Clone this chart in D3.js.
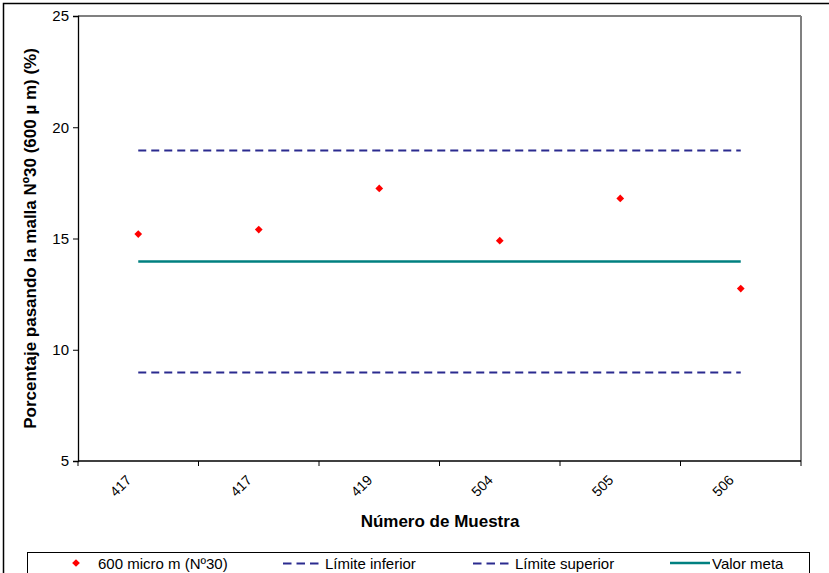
<!DOCTYPE html>
<html><head><meta charset="utf-8">
<script src="https://cdn.jsdelivr.net/npm/d3@7"></script>
<style>body{margin:0;background:#fff}svg{display:block;font-family:"Liberation Sans",Arial,sans-serif}</style>
</head><body><svg id="c" width="829" height="573"></svg>
<script>
const categories = ["417","417","419","504","505","506"];
const values = [15.2, 15.4, 17.25, 14.9, 16.8, 12.75];
const lowerLimit = [9, 9, 9, 9, 9, 9];
const upperLimit = [19, 19, 19, 19, 19, 19];
const target = [14, 14, 14, 14, 14, 14];
const yTicks = [5, 10, 15, 20, 25];
const legendLabels = ["600 micro m (Nº30)", "Límite inferior", "Límite superior", "Valor meta"];

const svg = d3.select("#c");
const L = 78, R = 801, T = 16, B = 461;
const idx = categories.map((d,i)=>i);
const x = d3.scaleBand().domain(idx).range([L, R]);
const cx = i => x(i) + x.bandwidth()/2;
const y = d3.scaleLinear().domain([5, 25]).range([B, T]);

// outer border
svg.append("rect").attr("x",3.5).attr("y",3.5).attr("width",840).attr("height",600)
  .attr("fill","none").attr("stroke","#000").attr("stroke-width",1.5);

// plot frame top/right gray
svg.append("line").attr("x1",L).attr("x2",R).attr("y1",T).attr("y2",T).attr("stroke","#808080").attr("stroke-width",2);
svg.append("line").attr("x1",R).attr("x2",R).attr("y1",T).attr("y2",B).attr("stroke","#808080").attr("stroke-width",2);

// y axis
const ya = svg.append("g").attr("transform",`translate(${L},0)`)
  .call(d3.axisLeft(y).tickValues(yTicks).tickSize(5).tickPadding(4));
ya.select(".domain").attr("stroke","#000").attr("stroke-width",1.3);
ya.selectAll("text").attr("font-size",15).attr("fill","#000").attr("font-family","Liberation Sans, Arial");

// x axis with ticks at boundaries
const xa = svg.append("g").attr("transform",`translate(0,${B})`);
xa.append("line").attr("x1",L).attr("x2",R).attr("stroke","#000").attr("stroke-width",1.3);
const bounds = idx.map(i=>x(i)).concat([R]);
xa.selectAll(".tk").data(bounds).join("line").attr("x1",d=>d).attr("x2",d=>d).attr("y1",0).attr("y2",5).attr("stroke","#000");
xa.selectAll(".lbl").data(idx).join("text")
  .attr("transform",i=>`translate(${cx(i)-6},${20}) rotate(-45)`)
  .attr("text-anchor","end").attr("font-size",14).attr("fill","#000")
  .text(i=>categories[i]);

// reference lines
const line = d3.line().x((d,i)=>cx(i)).y(d=>Math.round(y(d)) + 0.5);
const dashColor = "#2b2b8f";
svg.append("path").datum(upperLimit).attr("d",line).attr("fill","none").attr("stroke",dashColor).attr("stroke-width",1.8).attr("stroke-dasharray","8,5");
svg.append("path").datum(lowerLimit).attr("d",line).attr("fill","none").attr("stroke",dashColor).attr("stroke-width",1.8).attr("stroke-dasharray","8,5");
svg.append("path").datum(target).attr("d",line).attr("fill","none").attr("stroke","#008080").attr("stroke-width",2.4);

// points
const diamond = d3.symbol().type(d3.symbolDiamond2).size(38);
svg.selectAll(".pt").data(values).join("path")
  .attr("d",diamond).attr("transform",(d,i)=>`translate(${cx(i)},${y(d)})`).attr("fill","#ff0000");

// titles
svg.append("text").attr("x",440).attr("y",527).attr("text-anchor","middle").attr("font-weight","bold").attr("font-size",17).text("Número de Muestra");
svg.append("text").attr("transform",`translate(36,${(T+B)/2}) rotate(-90)`).attr("text-anchor","middle").attr("font-weight","bold").attr("font-size",17).text("Porcentaje pasando la malla Nº30 (600 µ m) (%)");

// legend
svg.append("rect").attr("x",27.5).attr("y",552.5).attr("width",782).attr("height",40).attr("fill","#fff").attr("stroke","#000").attr("stroke-width",1);
const ly = 563;
svg.append("path").attr("d",diamond).attr("transform",`translate(76,${ly})`).attr("fill","#ff0000");
svg.append("text").attr("x",98).attr("y",ly+5.5).attr("font-size",15).text(legendLabels[0]);
svg.append("line").attr("x1",283).attr("x2",319).attr("y1",ly+0.5).attr("y2",ly+0.5).attr("stroke",dashColor).attr("stroke-width",1.8).attr("stroke-dasharray","8.5,5");
svg.append("text").attr("x",325).attr("y",ly+5.5).attr("font-size",15).text(legendLabels[1]);
svg.append("line").attr("x1",473).attr("x2",509).attr("y1",ly+0.5).attr("y2",ly+0.5).attr("stroke",dashColor).attr("stroke-width",1.8).attr("stroke-dasharray","8.5,5");
svg.append("text").attr("x",515).attr("y",ly+5.5).attr("font-size",15).text(legendLabels[2]);
svg.append("line").attr("x1",670).attr("x2",710).attr("y1",ly).attr("y2",ly).attr("stroke","#008080").attr("stroke-width",2.4);
svg.append("text").attr("x",712).attr("y",ly+5.5).attr("font-size",15).text(legendLabels[3]);
</script></body></html>
